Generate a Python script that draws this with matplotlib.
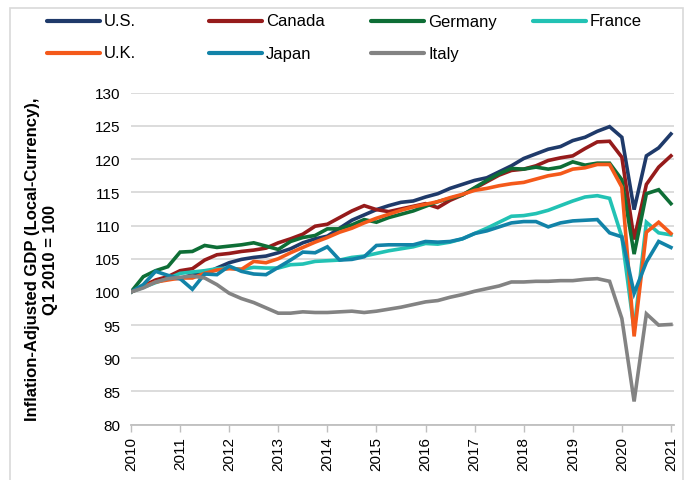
import matplotlib
matplotlib.use('Agg')
import matplotlib.pyplot as plt
from matplotlib.lines import Line2D
from matplotlib.patches import Rectangle

plt.rcParams['font.family'] = ['Liberation Sans', 'DejaVu Sans']

# quarterly index, Q1 2010 .. Q1 2021
us = [100, 100.9, 101.6, 102.1, 102.0, 102.6, 102.7, 103.6, 104.4, 104.9, 105.2, 105.4,
      105.9, 106.5, 107.4, 108.0, 108.4, 109.6, 110.8, 111.6, 112.4, 113.0, 113.5, 113.7,
      114.3, 114.8, 115.6, 116.2, 116.8, 117.2, 118.1, 119.0, 120.1, 120.8, 121.5, 121.9,
      122.8, 123.3, 124.2, 124.9, 123.3, 112.4, 120.5, 121.7, 123.8]
canada = [100, 100.9, 101.8, 102.3, 103.2, 103.5, 104.8, 105.6, 105.8, 106.1, 106.3, 106.6,
          107.4, 108.0, 108.7, 109.9, 110.2, 111.2, 112.2, 113.0, 112.4, 112.1, 112.5, 112.9,
          113.3, 112.7, 113.8, 114.6, 115.6, 116.6, 117.6, 118.3, 118.5, 119.0, 119.8, 120.2,
          120.5, 121.6, 122.6, 122.7, 120.3, 107.9, 116.2, 118.8, 120.5]
germany = [100, 102.3, 103.2, 103.8, 106.0, 106.1, 107.0, 106.7, 106.9, 107.1, 107.4, 106.9,
           106.4, 107.6, 108.2, 108.5, 109.5, 109.5, 110.1, 110.9, 110.5, 111.2, 111.7, 112.2,
           112.9, 113.6, 114.1, 114.6, 115.7, 116.8, 117.8, 118.6, 118.5, 118.8, 118.5, 118.8,
           119.6, 119.1, 119.4, 119.4, 116.9, 105.7, 114.8, 115.4, 113.3]
france = [100, 100.7, 101.4, 102.0, 102.8, 103.0, 103.2, 103.5, 103.6, 103.4, 103.7, 103.6,
          103.6, 104.1, 104.2, 104.6, 104.7, 104.8, 105.2, 105.4, 105.8, 106.2, 106.5, 106.8,
          107.3, 107.2, 107.5, 108.0, 108.8, 109.6, 110.5, 111.4, 111.5, 111.8, 112.3, 113.0,
          113.7, 114.3, 114.5, 114.1, 108.3, 94.3, 110.5, 108.9, 108.6]
uk = [100, 100.8, 101.5, 101.8, 102.1, 102.1, 102.8, 103.3, 103.5, 103.4, 104.6, 104.4,
      105.0, 105.9, 106.7, 107.5, 108.2, 109.0, 109.6, 110.4, 111.1, 111.7, 112.3, 112.8,
      113.2, 113.6, 114.2, 114.7, 115.3, 115.6, 116.0, 116.3, 116.5, 117.0, 117.5, 117.8,
      118.5, 118.7, 119.2, 119.2, 115.8, 93.3, 109.0, 110.5, 108.8]
japan = [100, 101.1, 103.1, 102.5, 102.0, 100.4, 102.7, 102.6, 103.9, 103.1, 102.7, 102.6,
         103.7, 104.8, 106.0, 105.9, 106.8, 104.8, 104.9, 105.3, 107.0, 107.1, 107.1, 107.1,
         107.6, 107.5, 107.6, 108.0, 108.8, 109.2, 109.8, 110.4, 110.6, 110.6, 109.8, 110.4,
         110.7, 110.8, 110.9, 108.9, 108.3, 99.8, 104.5, 107.6, 106.7]
italy = [100, 100.6, 101.5, 102.0, 102.2, 102.4, 102.1, 101.1, 99.8, 99.0, 98.4, 97.6,
         96.8, 96.8, 97.0, 96.9, 96.9, 97.0, 97.1, 96.9, 97.1, 97.4, 97.7, 98.1,
         98.5, 98.7, 99.2, 99.6, 100.1, 100.5, 100.9, 101.5, 101.5, 101.6, 101.6, 101.7,
         101.7, 101.9, 102.0, 101.6, 96.0, 83.5, 96.7, 95.0, 95.1]

names = ['U.S.', 'Canada', 'Germany', 'France', 'U.K.', 'Japan', 'Italy']
series = [us, canada, germany, france, uk, japan, italy]
colors = ['#1F3A6A', '#961B1B', '#0E6E36', '#22C2B4', '#F4591A', '#1283A8', '#838383']
years = list(range(2010, 2022))

fig = plt.figure(figsize=(6.86, 4.81), dpi=100)
ax = fig.add_axes([0.191, 0.115, 0.7915, 0.69])

x = list(range(len(us)))
for vals, c, n in zip(series, colors, names):
    ax.plot(x, vals, color=c, lw=2.6, label=n, solid_joinstyle='miter')

ax.set_xlim(0, 44.25)
ax.set_ylim(80, 130)
ax.set_yticks(range(80, 131, 5))
ax.set_xticks([4 * i for i in range(len(years))])
ax.set_xticklabels([str(y) for y in years], rotation=90, fontsize=11)
ax.tick_params(axis='y', length=0, labelsize=11, pad=8)
ax.tick_params(axis='x', length=5, color='#BFBFBF', width=1, pad=3)
ax.grid(axis='y', color='#D9D9D9', lw=1.3)
ax.set_axisbelow(True)
for s in ['top', 'right', 'left']:
    ax.spines[s].set_visible(False)
ax.spines['bottom'].set_color('#BFBFBF')
ax.spines['bottom'].set_linewidth(1.3)

fig.text(0.06, 0.46, 'Inflation-Adjusted GDP (Local-Currency),\nQ1 2010 = 100',
         rotation=90, ha='center', va='center', fontsize=12, fontweight='bold',
         linespacing=1.25)

# legend, laid out by hand in figure pixels
W, H = 686, 481
col_x = [47, 209, 371, 533]
row_y = [22, 54]
for k, (n, c) in enumerate(zip(names, colors)):
    r, col = divmod(k, 4)
    x0 = col_x[col]
    y0 = row_y[r]
    fig.add_artist(Line2D([x0 / W, (x0 + 53) / W], [1 - y0 / H, 1 - y0 / H],
                          color=c, lw=3, solid_capstyle='round'))
    fig.text((x0 + 57) / W, 1 - y0 / H, n, ha='left', va='center', fontsize=12)

fig.add_artist(Rectangle((10 / W, -0.01), 673 / W, 1 - 9 / H + 0.01, fill=False,
                         edgecolor='#D9D9D9', lw=1.2, transform=fig.transFigure))

plt.savefig('out.png', dpi=100)
plt.close()
